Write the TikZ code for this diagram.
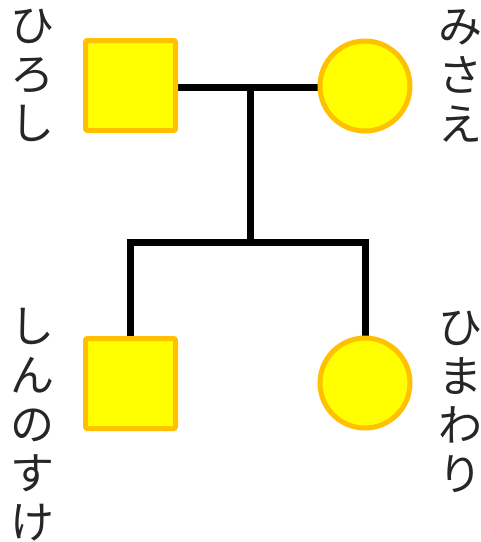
\documentclass[tikz,border=0pt]{standalone}
\usepackage{fontspec}
\newfontfamily\jpfont{Noto Sans CJK JP}
\usetikzlibrary{backgrounds}
\definecolor{boxorange}{HTML}{FFC000}
\definecolor{boxyellow}{HTML}{FFFF00}
\tikzset{
  male/.style={draw=boxorange, fill=boxyellow, line width=5pt, rectangle, rounded corners=2pt, minimum size=90pt, inner sep=0pt},
  female/.style={draw=boxorange, fill=boxyellow, line width=5pt, circle, minimum size=90pt, inner sep=0pt},
  link/.style={line width=7pt, black, line join=miter},
  vlabel/.style={font=\jpfont\fontsize{44pt}{49pt}\selectfont, align=center, inner sep=0pt, anchor=north, text=black!85}
}
\begin{document}
\begin{tikzpicture}[x=1pt,y=-1pt]
\useasboundingbox (0,0) rectangle (481,542);
\clip (0,0) rectangle (481,542);
\node[male] (hiroshi) at (130.5,85.5) {};
\node[female] (misae) at (365,86) {};
\node[male] (shin) at (130.5,383.5) {};
\node[female] (hima) at (365,383) {};
\coordinate (mid) at (250.5,87);
\coordinate (bar) at (250.5,242);
\begin{scope}[on background layer]
\draw[link] (hiroshi.east |- mid) -- (misae.west |- mid);
\draw[link] (mid) -- (bar);
\draw[link] (shin.north) -- (shin.north |- bar) -- (hima.north |- bar) -- (hima.north);
\end{scope}
\node[vlabel] (lhiroshi) at (33,9) {ひ\\ろ\\し};
\node[vlabel] (lmisae) at (460,9) {み\\さ\\え};
\node[vlabel] (lshin) at (33,308) {し\\ん\\の\\す\\け};
\node[vlabel] (lhima) at (460,311) {ひ\\ま\\わ\\り};
\end{tikzpicture}
\end{document}
